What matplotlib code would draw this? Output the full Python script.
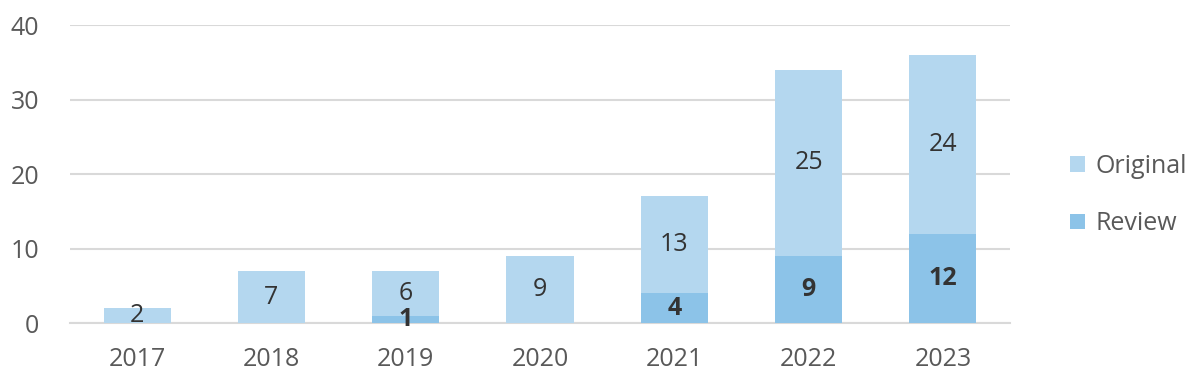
import matplotlib.pyplot as plt
import numpy as np

plt.rcParams['font.family'] = ['Open Sans', 'DejaVu Sans']

years = ['2017', '2018', '2019', '2020', '2021', '2022', '2023']
review = [0, 0, 1, 0, 4, 9, 12]
original = [2, 7, 6, 9, 13, 25, 24]

c_orig = '#b4d7ef'
c_rev = '#8cc3e8'

fig = plt.figure(figsize=(11.99, 3.87), dpi=100)
ax = fig.add_axes([0.0584, 0.165, 0.784, 0.77])

x = np.arange(len(years))
b_rev = ax.bar(x, review, width=0.5, color=c_rev, label='Review', zorder=3)
b_orig = ax.bar(x, original, width=0.5, bottom=review, color=c_orig, label='Original', zorder=3)

for i in range(len(years)):
    if review[i] > 0:
        ax.text(x[i], review[i] / 2, str(review[i]), ha='center', va='center',
                fontsize=18, fontweight='bold', color='#333333', zorder=4)
    ax.text(x[i], review[i] + original[i] / 2, str(original[i]), ha='center', va='center',
            fontsize=18, color='#333333', zorder=4)

ax.set_xlim(-0.5, len(years) - 0.5)
ax.set_ylim(0, 40)
ax.set_yticks([0, 10, 20, 30, 40])
ax.set_xticks(x)
ax.set_xticklabels(years)
ax.tick_params(length=0, labelsize=18, labelcolor='#595959')
ax.tick_params(axis='x', pad=17)
ax.tick_params(axis='y', pad=22)
ax.grid(axis='y', color='#d9d9d9', linewidth=1.5, zorder=0)
for s in ['top', 'right', 'left']:
    ax.spines[s].set_visible(False)
ax.spines['bottom'].set_color('#d9d9d9')
ax.spines['bottom'].set_linewidth(1.5)

ax.legend(handles=[b_orig, b_rev], labels=['Original', 'Review'], loc='center left',
          bbox_to_anchor=(1.04, 0.43), frameon=False, fontsize=18, handlelength=0.6,
          handleheight=0.6, handletextpad=0.4, labelspacing=1.3, labelcolor='#595959')

fig.savefig('out.png', dpi=100)
